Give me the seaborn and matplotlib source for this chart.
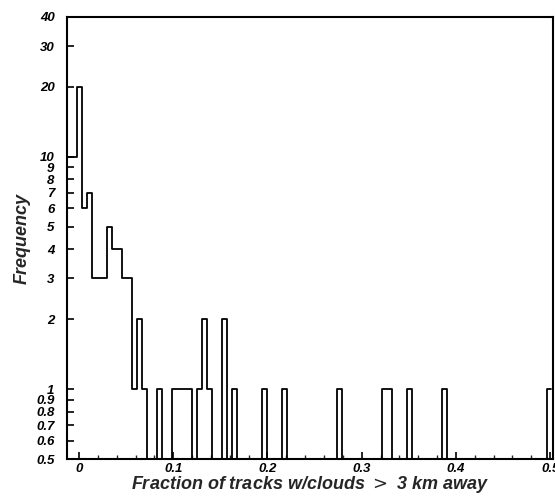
import numpy as np
import pandas as pd
import matplotlib
matplotlib.use("Agg")
import matplotlib.pyplot as plt
import seaborn as sns
from matplotlib.ticker import FixedLocator, NullLocator, MultipleLocator

# histogram: bin index (0 = bin around x=0) and count
bin_width = 0.0053
bin_start = -0.0021
bin_idx = [-2, -1, 0, 1, 2, 3, 4, 5, 6, 7, 8, 9, 10, 11, 12, 13,
           16, 19, 20, 21, 22, 24, 25, 26, 29, 31, 37, 41, 52, 61, 62, 66, 73, 94]
freq = [10, 10, 20, 6, 7, 3, 3, 3, 5, 4, 4, 3, 3, 1, 2, 1,
        1, 1, 1, 1, 1, 1, 2, 1, 2, 1, 1, 1, 1, 1, 1, 1, 1, 1]

ytick_vals = [0.5, 0.6, 0.7, 0.8, 0.9, 1, 2, 3, 4, 5, 6, 7, 8, 9, 10, 20, 30, 40]
ytick_labels = ["0.5", "0.6", "0.7", "0.8", "0.9", "1", "2", "3", "4", "5",
                "6", "7", "8", "9", "10", "20", "30", "40"]
xtick_vals = [0, 0.1, 0.2, 0.3, 0.4, 0.5]
xtick_labels = ["0", "0.1", "0.2", "0.3", "0.4", "0.5"]

sns.set_style("ticks")
plt.rcParams["font.family"] = ["Liberation Sans", "DejaVu Sans"]

edges = list(bin_start + bin_width * np.arange(min(bin_idx), max(bin_idx) + 2))
df = pd.DataFrame({
    "frac": bin_start + bin_width * (np.array(bin_idx) + 0.5),
    "n": freq,
})

fig = plt.figure(figsize=(5.55, 4.97), dpi=100)
ax = fig.add_axes([0.1207, 0.0764, 0.8757, 0.8894])

sns.histplot(data=df, x="frac", weights="n", bins=edges, element="step",
             fill=False, color="black", linewidth=1.3, ax=ax)

ax.set_yscale("log")
ax.set_ylim(0.5, 40)
ax.set_xlim(-0.0128, 0.503)

ax.yaxis.set_major_locator(FixedLocator(ytick_vals))
ax.yaxis.set_minor_locator(NullLocator())
ax.set_yticklabels(ytick_labels)
ax.set_xticks(xtick_vals)
ax.set_xticklabels(xtick_labels)
ax.xaxis.set_minor_locator(MultipleLocator(0.02))

for lab in ax.get_xticklabels() + ax.get_yticklabels():
    lab.set_fontsize(9.5)
    lab.set_fontweight("bold")
    lab.set_fontstyle("italic")

ax.tick_params(axis="both", which="major", direction="in", length=5, width=1.2,
               colors="black", pad=3)
ax.tick_params(axis="x", which="minor", direction="in", length=3, width=1)
ax.tick_params(axis="y", pad=9)

for sp in ax.spines.values():
    sp.set_visible(True)
    sp.set_linewidth(1.5)
    sp.set_color("black")

ax.set_xlabel("Fraction of tracks w/clouds $>$ 3 km away", fontsize=13,
              fontweight="bold", fontstyle="italic", labelpad=-1)
ax.set_ylabel("Frequency", fontsize=13, fontweight="bold", fontstyle="italic",
              labelpad=4)

fig.savefig("out.png", dpi=100)
